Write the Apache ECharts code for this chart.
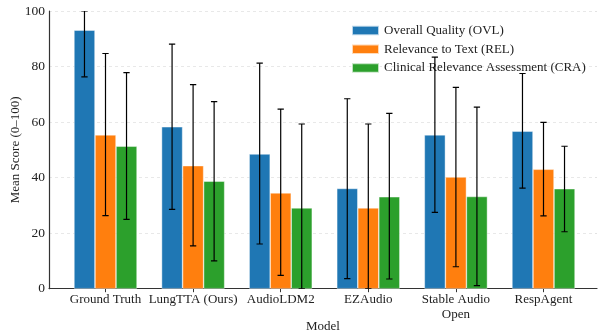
<!DOCTYPE html>
<html>
<head>
<meta charset="utf-8">
<script src="https://cdn.jsdelivr.net/npm/echarts@6/dist/echarts.min.js"></script>
<style>
html,body{margin:0;padding:0;background:#fff;}
#chart{width:598px;height:335px;}
</style>
</head>
<body>
<div id="chart"></div>
<script>
const categories = ['Ground Truth', 'LungTTA (Ours)', 'AudioLDM2', 'EZAudio', 'Stable Audio\nOpen', 'RespAgent'];
const seriesNames = ['Overall Quality (OVL)', 'Relevance to Text (REL)', 'Clinical Relevance Assessment (CRA)'];
const ovl     = [93.1, 58.3, 48.5, 36.1, 55.4, 56.7];
const ovlLow  = [76.3, 28.6, 16.1,  3.6, 27.5, 36.2];
const ovlHigh = [100.0, 88.1, 81.2, 68.4, 83.4, 77.5];
const rel     = [55.4, 44.3, 34.5, 29.1, 40.2, 43.0];
const relLow  = [26.3, 15.4,  4.8,  0.0,  7.9, 26.2];
const relHigh = [84.7, 73.5, 64.7, 59.3, 72.5, 59.9];
const cra     = [51.3, 38.7, 29.1, 33.1, 33.2, 36.0];
const craLow  = [25.0, 10.0,  0.0,  3.5,  1.1, 20.5];
const craHigh = [77.8, 67.4, 59.3, 63.1, 65.4, 51.3];
const yTicks = [0, 20, 40, 60, 80, 100];

const colors = ['#1f77b4', '#ff7f0e', '#2ca02c'];
const FONT = '"Liberation Serif", "DejaVu Serif", serif';
const BAR_FRAC = 0.24;

const means = [ovl, rel, cra];
const lows = [ovlLow, relLow, craLow];
const highs = [ovlHigh, relHigh, craHigh];

const series = [];
means.forEach((vals, k) => {
  series.push({
    name: seriesNames[k], type: 'bar', xAxisIndex: 0, yAxisIndex: 0,
    data: vals, barWidth: (BAR_FRAC * 100) + '%', barGap: '0%',
    itemStyle: { color: colors[k], borderColor: 'rgba(255,255,255,0.7)', borderWidth: 0.6 },
    z: 2
  });
});
means.forEach((vals, k) => {
  series.push({
    type: 'custom', xAxisIndex: 0, yAxisIndex: 0, z: 5, clip: true,
    data: vals.map((v, i) => [i, lows[k][i], highs[k][i]]),
    encode: { x: 0, y: [1, 2] },
    silent: true,
    renderItem: function (params, api) {
      const i = api.value(0);
      const lo = api.coord([i, api.value(1)]);
      const hi = api.coord([i, api.value(2)]);
      const band = api.size([1, 0])[0];
      const x = lo[0] + band * BAR_FRAC * (k - 1);
      const cap = band * 0.036;
      const st = { stroke: '#000', lineWidth: 1.2 };
      return {
        type: 'group',
        children: [
          { type: 'line', shape: { x1: x, y1: lo[1], x2: x, y2: hi[1] }, style: st },
          { type: 'line', shape: { x1: x - cap, y1: lo[1], x2: x + cap, y2: lo[1] }, style: st },
          { type: 'line', shape: { x1: x - cap, y1: hi[1], x2: x + cap, y2: hi[1] }, style: st }
        ]
      };
    }
  });
});

const chart = echarts.init(document.getElementById('chart'));
chart.setOption({
  animation: false,
  backgroundColor: '#fff',
  textStyle: { fontFamily: FONT },
  grid: [
    { left: 61.7, right: 10.7, top: 11, bottom: 46.3, containLabel: false, outerBoundsMode: 'none' },
    { left: 49, right: 1, top: 11, bottom: 46.3, containLabel: false, outerBoundsMode: 'none' }
  ],
  legend: {
    data: seriesNames, orient: 'vertical', left: 346, top: 18.5,
    itemWidth: 27, itemHeight: 9.5, itemGap: 4.7, icon: 'rect',
    textStyle: { fontFamily: FONT, fontSize: 13, color: '#222', lineHeight: 14 }
  },
  xAxis: [
    {
      type: 'category', gridIndex: 0, data: categories,
      axisLine: { show: false },
      axisTick: { show: true, alignWithLabel: true, length: 3.5, lineStyle: { color: '#333', width: 1 } },
      axisLabel: { fontFamily: FONT, fontSize: 13, color: '#222', margin: 3, lineHeight: 15, interval: 0 },
      splitLine: { show: false }
    },
    {
      type: 'value', gridIndex: 1, min: 0, max: 1,
      axisLine: { show: true, lineStyle: { color: '#333', width: 1.2 } },
      axisTick: { show: false }, axisLabel: { show: false }, splitLine: { show: false },
      name: 'Model', nameLocation: 'middle', nameGap: 31, nameMoveOverlap: false,
      nameTextStyle: { fontFamily: FONT, fontSize: 13, color: '#222' }
    }
  ],
  yAxis: [
    { type: 'value', gridIndex: 0, min: 0, max: 100, show: false },
    {
      type: 'value', gridIndex: 1, min: yTicks[0], max: yTicks[yTicks.length - 1], interval: 20,
      axisLine: { show: true, lineStyle: { color: '#333', width: 1.2 } },
      axisTick: { show: false },
      axisLabel: { fontFamily: FONT, fontSize: 13.5, color: '#222', margin: 4 },
      splitLine: { show: true, lineStyle: { color: '#e2e2e2', type: [3, 3], width: 0.8 } },
      name: 'Mean Score (0–100)', nameLocation: 'middle', nameGap: 27, nameRotate: 90, nameMoveOverlap: false,
      nameTextStyle: { fontFamily: FONT, fontSize: 13, color: '#222' }
    }
  ],
  series: series
});
</script>
</body>
</html>
